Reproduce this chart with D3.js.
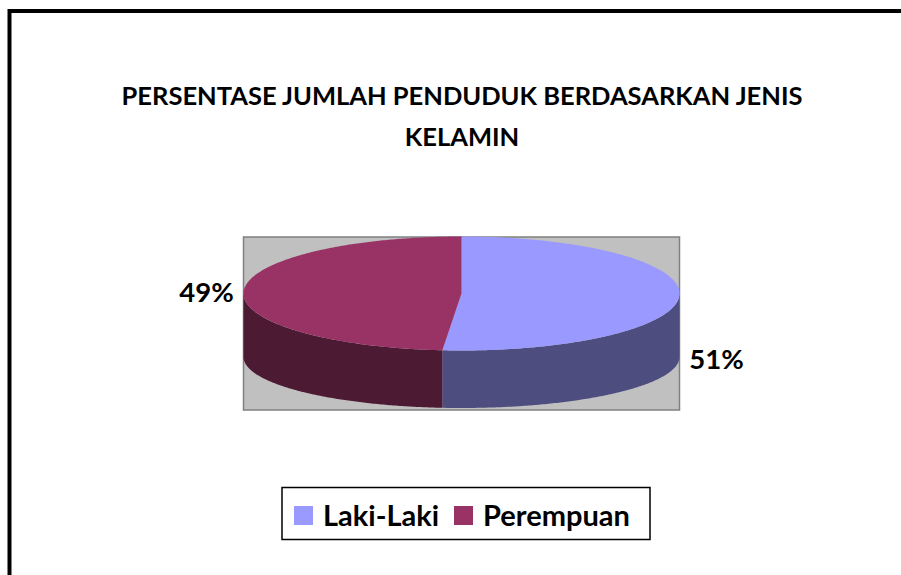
<!DOCTYPE html>
<html>
<head>
<meta charset="utf-8">
<script src="https://cdn.jsdelivr.net/npm/d3@7/dist/d3.min.js"></script>
<style>
  body { margin: 0; background: #ffffff; }
  svg { display: block; }
</style>
</head>
<body>
<div id="chart"></div>
<script>
// Data
const categories = ["Laki-Laki", "Perempuan"];
const values = [51.4, 48.6];
const pctLabels = ["51%", "49%"];
const colors = ["#9999FF", "#993366"];
const titleLines = ["PERSENTASE JUMLAH PENDUDUK BERDASARKAN JENIS", "KELAMIN"];

const W = 901, H = 575;
const font = "Lato, 'Open Sans', sans-serif";

svg = d3.select('#chart')
    .append('svg')
    .attr("width", W)
    .attr("height", H);

// outer frame (runs off the right and bottom edge)
svg.append("rect")
    .attr("x", 9.5)
    .attr("y", 11)
    .attr("width", 1000)
    .attr("height", 1000)
    .style("fill", "#ffffff")
    .style("stroke", "#000000")
    .style("stroke-width", 4);

// title
svg.selectAll(".title")
    .data(titleLines)
    .join("text")
    .attr("class", "title")
    .text(d => d)
    .attr("x", 462)
    .attr("y", (d, i) => 105 + i * 41)
    .attr("text-anchor", "middle")
    .style("font-family", font)
    .style("font-weight", "bold")
    .style("font-size", "25.5px")
    .style("fill", "#000");

// plot area
svg.append("rect")
    .attr("x", 243.5)
    .attr("y", 237)
    .attr("width", 436)
    .attr("height", 173)
    .style("fill", "#C0C0C0")
    .style("stroke", "#808080")
    .style("stroke-width", 1.5);

// 3d pie geometry
const cx = 461.5, rx = 218;
const topE = {cy: 293.5, ry: 57};
const botE = {cy: 357, ry: 51};

const px = (a) => cx + rx * Math.sin(a);
const py = (e, a) => e.cy - e.ry * Math.cos(a);

function arcPts(e, a0, a1) {
    const n = Math.max(2, Math.ceil(Math.abs(a1 - a0) / 0.01));
    return d3.range(n + 1).map(i => {
        const a = a0 + (a1 - a0) * i / n;
        return [px(a), py(e, a)];
    });
}

const pie = d3.pie().sort(null).startAngle(0).endAngle(2 * Math.PI);
const slices = pie(values);
const line = d3.line();

const darker = c => {
    const r = d3.rgb(c);
    return d3.rgb(r.r * 0.5, r.g * 0.5, r.b * 0.5).formatHex();
};

// side walls (only front half is visible: PI/2 .. 3PI/2)
slices.forEach((s, i) => {
    const a0 = Math.max(s.startAngle, Math.PI / 2);
    const a1 = Math.min(s.endAngle, 3 * Math.PI / 2);
    if (a1 <= a0) return;
    const pts = arcPts(topE, a0, a1).concat(arcPts(botE, a1, a0));
    svg.append("path")
        .attr("d", line(pts) + "Z")
        .style("fill", darker(colors[i]));
});

// top faces
slices.forEach((s, i) => {
    const pts = [[cx, topE.cy]].concat(arcPts(topE, s.startAngle, s.endAngle));
    svg.append("path")
        .attr("d", line(pts) + "Z")
        .style("fill", colors[i]);
});

// data labels
slices.forEach((s, i) => {
    const mid = (s.startAngle + s.endAngle) / 2;
    const right = Math.sin(mid) > 0;
    svg.append("text")
        .text(pctLabels[i])
        .attr("x", right ? px(mid) + 10 : px(mid) - 10)
        .attr("y", right ? py(topE, mid) + 73 : py(topE, mid) + 11)
        .attr("text-anchor", right ? "start" : "end")
        .style("font-family", font)
        .style("font-weight", "bold")
        .style("font-size", "27.5px")
        .style("fill", "#000");
});

// legend
const legend = svg.append("g");
legend.append("rect")
    .attr("x", 282)
    .attr("y", 487.5)
    .attr("width", 368)
    .attr("height", 52)
    .style("fill", "#ffffff")
    .style("stroke", "#000000")
    .style("stroke-width", 1.5);

const legX = [294, 454];
categories.forEach((c, i) => {
    legend.append("rect")
        .attr("x", legX[i])
        .attr("y", 506)
        .attr("width", 19)
        .attr("height", 19)
        .style("fill", colors[i]);
    legend.append("text")
        .text(c)
        .attr("x", legX[i] + 29)
        .attr("y", 525.5)
        .style("font-family", font)
        .style("font-weight", "bold")
        .style("font-size", "29px")
        .style("fill", "#000");
});
</script>
</body>
</html>
